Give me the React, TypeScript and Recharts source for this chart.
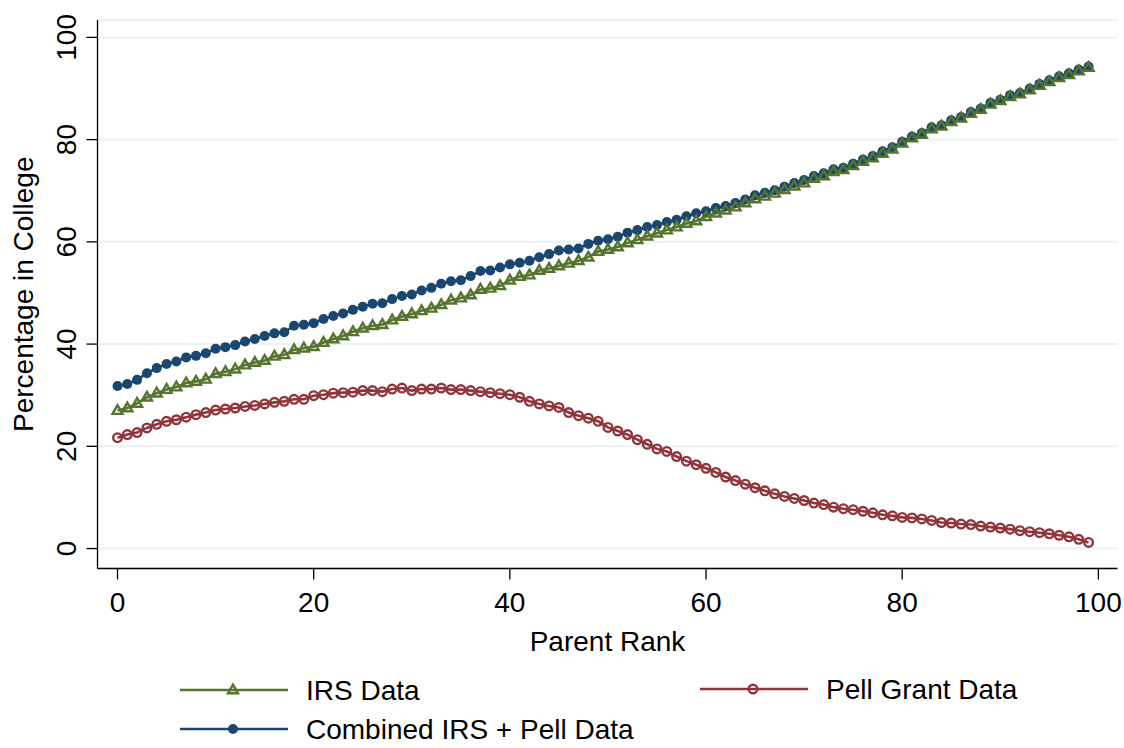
import React from 'react';
import { LineChart, Line, XAxis, YAxis, CartesianGrid } from 'recharts';

const parentRank = [
  0, 1, 2, 3, 4, 5, 6, 7, 8, 9, 10, 11, 12, 13, 14, 15, 16, 17, 18, 19,
  20, 21, 22, 23, 24, 25, 26, 27, 28, 29, 30, 31, 32, 33, 34, 35, 36, 37, 38, 39,
  40, 41, 42, 43, 44, 45, 46, 47, 48, 49, 50, 51, 52, 53, 54, 55, 56, 57, 58, 59,
  60, 61, 62, 63, 64, 65, 66, 67, 68, 69, 70, 71, 72, 73, 74, 75, 76, 77, 78, 79,
  80, 81, 82, 83, 84, 85, 86, 87, 88, 89, 90, 91, 92, 93, 94, 95, 96, 97, 98, 99,
];

const irsData = [
  27.0, 27.5, 28.4, 29.6, 30.4, 31.1, 31.6, 32.4, 32.7, 33.1,
  34.2, 34.6, 35.1, 35.9, 36.4, 36.8, 37.6, 37.9, 38.9, 39.2,
  39.5, 40.3, 41.0, 41.6, 42.4, 43.1, 43.6, 43.8, 44.7, 45.4,
  45.9, 46.5, 47.0, 47.7, 48.6, 49.0, 49.6, 50.7, 50.9, 51.4,
  52.5, 53.2, 53.5, 54.4, 54.8, 55.3, 55.8, 56.3, 57.0, 58.1,
  58.5, 59.0, 59.8, 60.4, 61.1, 61.7, 62.3, 62.9, 63.6, 64.1,
  64.9, 65.6, 66.2, 66.8, 67.6, 68.4, 68.9, 69.5, 70.2, 70.9,
  71.5, 72.4, 72.9, 73.7, 74.1, 74.9, 75.7, 76.4, 77.3, 78.1,
  79.3, 80.3, 81.0, 82.1, 82.6, 83.5, 84.2, 85.1, 85.9, 86.9,
  87.6, 88.4, 88.9, 89.7, 90.6, 91.3, 92.1, 92.7, 93.4, 94.1,
];

const pellData = [
  21.7, 22.3, 22.7, 23.6, 24.3, 24.9, 25.2, 25.7, 26.2, 26.6,
  27.1, 27.3, 27.5, 27.8, 28.0, 28.3, 28.6, 28.8, 29.2, 29.2,
  29.9, 30.1, 30.4, 30.5, 30.6, 30.9, 30.9, 30.7, 31.2, 31.4,
  30.9, 31.2, 31.2, 31.4, 31.1, 31.1, 30.9, 30.7, 30.5, 30.3,
  30.1, 29.6, 28.8, 28.3, 27.9, 27.6, 26.6, 26.0, 25.5, 24.9,
  23.7, 23.0, 22.3, 21.3, 20.4, 19.5, 19.0, 18.0, 17.1, 16.4,
  15.7, 14.9, 14.0, 13.3, 12.6, 11.9, 11.3, 10.7, 10.2, 9.8,
  9.4, 8.9, 8.6, 8.1, 7.8, 7.6, 7.3, 7.0, 6.6, 6.4,
  6.1, 6.0, 5.8, 5.5, 5.1, 5.0, 4.8, 4.7, 4.4, 4.2,
  4.0, 3.8, 3.5, 3.3, 3.1, 2.9, 2.6, 2.3, 1.8, 1.2,
];

const combinedData = [
  31.8, 32.2, 33.0, 34.3, 35.3, 36.1, 36.6, 37.4, 37.7, 38.2,
  39.1, 39.4, 39.8, 40.5, 41.0, 41.6, 42.1, 42.3, 43.6, 43.8,
  44.1, 44.9, 45.5, 46.0, 46.7, 47.3, 47.9, 48.0, 48.8, 49.4,
  49.7, 50.5, 51.0, 51.8, 52.3, 52.5, 53.3, 54.3, 54.4, 55.0,
  55.6, 55.9, 56.3, 57.0, 57.6, 58.3, 58.5, 58.7, 59.6, 60.2,
  60.5, 61.0, 61.8, 62.3, 62.9, 63.3, 63.9, 64.3, 65.0, 65.6,
  66.0, 66.6, 67.0, 67.6, 68.3, 69.1, 69.6, 70.1, 70.8, 71.5,
  72.1, 72.9, 73.4, 74.2, 74.5, 75.3, 76.1, 76.8, 77.7, 78.5,
  79.6, 80.6, 81.3, 82.4, 82.8, 83.8, 84.4, 85.4, 86.1, 87.2,
  87.8, 88.7, 89.1, 90.0, 90.9, 91.6, 92.4, 93.0, 93.7, 94.3,
];

const xTicks = [0, 20, 40, 60, 80, 100];
const yTicks = [0, 20, 40, 60, 80, 100];

const seriesNames = {
  irs: 'IRS Data',
  pell: 'Pell Grant Data',
  combined: 'Combined IRS + Pell Data',
};
const xAxisTitle = 'Parent Rank';
const yAxisTitle = 'Percentage in College';

const COLORS = {
  irs: '#55752f',
  pell: '#90353b',
  combined: '#1a476f',
};

const data = parentRank.map((r, i) => ({
  rank: r,
  irs: irsData[i],
  pell: pellData[i],
  combined: combinedData[i],
}));

const FONT = '"Liberation Sans", Arial, Helvetica, sans-serif';
const FS = 28;

function triPoints(cx: number, cy: number) {
  return `${cx},${cy - 5.4} ${cx + 5},${cy + 3.3} ${cx - 5},${cy + 3.3}`;
}

const renderTriangle = (props: any) => {
  const { cx, cy, index } = props;
  if (cx == null || cy == null) return <g key={`t-${index}`} />;
  return (
    <polygon
      key={`t-${index}`}
      points={triPoints(cx, cy)}
      fill="none"
      stroke={COLORS.irs}
      strokeWidth={2.4}
    />
  );
};

const renderHollowCircle = (props: any) => {
  const { cx, cy, index } = props;
  if (cx == null || cy == null) return <g key={`c-${index}`} />;
  return (
    <circle key={`c-${index}`} cx={cx} cy={cy} r={4.3} fill="none" stroke={COLORS.pell} strokeWidth={2.4} />
  );
};

const renderSolidCircle = (props: any) => {
  const { cx, cy, index } = props;
  if (cx == null || cy == null) return <g key={`s-${index}`} />;
  return <circle key={`s-${index}`} cx={cx} cy={cy} r={5} fill={COLORS.combined} stroke="none" />;
};

const YTick = (props: any) => {
  const { x, y, payload } = props;
  return (
    <text
      x={x}
      y={y}
      transform={`rotate(-90, ${x}, ${y})`}
      textAnchor="middle"
      fontSize={FS}
      fontFamily={FONT}
      fill="#000"
    >
      {payload.value}
    </text>
  );
};

const XTick = (props: any) => {
  const { x, y, payload } = props;
  return (
    <text x={x} y={y} dy="0.71em" textAnchor="middle" fontSize={FS} fontFamily={FONT} fill="#000">
      {payload.value}
    </text>
  );
};

const XLabel = (props: any) => {
  const vb = props.viewBox || {};
  return (
    <text
      x={vb.x + vb.width / 2}
      y={651}
      textAnchor="middle"
      fontSize={FS}
      fontFamily={FONT}
      fill="#000"
    >
      {xAxisTitle}
    </text>
  );
};

const YLabel = (props: any) => {
  const vb = props.viewBox || {};
  const cy = vb.y + vb.height / 2;
  const bx = 33;
  return (
    <text
      x={bx}
      y={cy}
      transform={`rotate(-90, ${bx}, ${cy})`}
      textAnchor="middle"
      fontSize={FS}
      fontFamily={FONT}
      fill="#000"
    >
      {yAxisTitle}
    </text>
  );
};

const legendItems = [
  { key: 'irs', x: 180, y: 690, marker: 'triangle' },
  { key: 'pell', x: 700, y: 689, marker: 'hollow' },
  { key: 'combined', x: 180, y: 729, marker: 'solid' },
];

function LegendOverlay() {
  return (
    <svg
      width={1124}
      height={748}
      style={{ position: 'absolute', left: 0, top: 0, pointerEvents: 'none' }}
    >
      {legendItems.map((it) => {
        const color = (COLORS as any)[it.key];
        const mx = it.x + 53;
        let marker: React.ReactNode = null;
        if (it.marker === 'triangle') {
          marker = <polygon points={triPoints(mx, it.y)} fill="none" stroke={color} strokeWidth={2.4} />;
        } else if (it.marker === 'hollow') {
          marker = <circle cx={mx} cy={it.y} r={4.3} fill="none" stroke={color} strokeWidth={2.4} />;
        } else {
          marker = <circle cx={mx} cy={it.y} r={5} fill={color} />;
        }
        return (
          <g key={it.key}>
            <line x1={it.x} y1={it.y} x2={it.x + 108} y2={it.y} stroke={color} strokeWidth={2.6} />
            {marker}
            <text
              x={it.x + 126}
              y={it.y + 10}
              fontSize={FS}
              fontFamily={FONT}
              fill="#000"
            >
              {(seriesNames as any)[it.key]}
            </text>
          </g>
        );
      })}
    </svg>
  );
}

export default function App() {
  return (
    <div
      style={{
        position: 'absolute',
        left: 0,
        top: 0,
        width: 1124,
        height: 748,
        background: '#fff',
        overflow: 'hidden',
      }}
    >
      <LineChart
        width={1124}
        height={748}
        data={data}
        margin={{ top: 20, right: 6.5, left: 0, bottom: 0 }}
        style={{ background: '#fff' }}
      >
        <CartesianGrid horizontal vertical={false} stroke="#eaf2f3" strokeWidth={2} />
        <XAxis
          type="number"
          dataKey="rank"
          domain={[-2.04, 101.95]}
          ticks={xTicks}
          allowDataOverflow
          height={179.5}
          tickSize={11}
          tickMargin={12.5}
          tick={<XTick />}
          axisLine={{ stroke: '#000', strokeWidth: 1.3 }}
          tickLine={{ stroke: '#000', strokeWidth: 1.3 }}
          label={<XLabel />}
        />
        <YAxis
          type="number"
          domain={[-3.9, 103.4]}
          ticks={yTicks}
          allowDataOverflow
          width={97.5}
          tickSize={11}
          tickMargin={10.5}
          tick={<YTick />}
          axisLine={{ stroke: '#000', strokeWidth: 1.3 }}
          tickLine={{ stroke: '#000', strokeWidth: 1.3 }}
          label={<YLabel />}
        />
        <Line
          type="linear"
          dataKey="combined"
          name={seriesNames.combined}
          stroke={COLORS.combined}
          strokeWidth={2.6}
          dot={renderSolidCircle}
          activeDot={false}
          isAnimationActive={false}
        />
        <Line
          type="linear"
          dataKey="irs"
          name={seriesNames.irs}
          stroke={COLORS.irs}
          strokeWidth={2.6}
          dot={renderTriangle}
          activeDot={false}
          isAnimationActive={false}
        />
        <Line
          type="linear"
          dataKey="pell"
          name={seriesNames.pell}
          stroke={COLORS.pell}
          strokeWidth={2.6}
          dot={renderHollowCircle}
          activeDot={false}
          isAnimationActive={false}
        />
      </LineChart>
      <LegendOverlay />
    </div>
  );
}
